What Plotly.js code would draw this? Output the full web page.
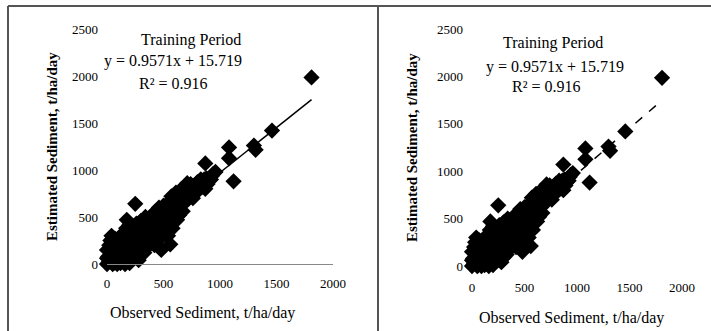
<!DOCTYPE html>
<html>
<head>
<meta charset="utf-8">
<script src="https://cdn.plot.ly/plotly-3.0.1.min.js"></script>
<style>html,body{margin:0;padding:0;background:#fff;}#chart{width:711px;height:331px;}</style>
</head>
<body>
<div id="chart"></div>
<script>
// Observed vs estimated sediment (t/ha/day), training period
const observed = [
  0,20,10,40,30,60,60,50,80,90,70,100,110,100,
  130,140,120,150,160,170,180,180,190,200,200,
  220,220,230,240,250,260,270,280,290,300,300,
  320,330,340,350,360,370,380,390,400,400,
  420,430,440,450,460,470,480,500,500,
  520,530,540,550,560,570,580,590,600,
  610,620,630,650,660,670,680,700,
  710,720,740,760,770,790,800,
  810,830,850,870,880,900,930,960,
  0,0,20,40,30,50,90,120,150,160,200,240,260,280,300,330,340,360,380,
  410,420,440,460,480,500,520,540,550,570,600,620,640,660,680,700,
  720,740,750,780,820,840,860,890,920,940,175,
  480,560,250,870,1080,1080,1120,1300,1315,1460,1810
];
const estimated = [
  0,30,80,50,150,10,110,220,60,170,270,20,120,230,
  60,180,300,110,250,380,40,160,310,420,90,
  40,200,350,130,270,430,80,200,340,460,140,
  230,380,500,170,300,430,220,350,520,270,
  400,560,300,470,600,370,520,430,620,
  330,520,650,420,580,720,380,500,650,
  760,470,580,690,800,560,650,760,
  860,690,780,700,830,760,870,
  790,900,860,800,910,880,940,980,
  60,150,200,300,250,0,0,10,20,0,10,60,140,40,90,120,200,380,460,
  340,200,420,260,330,500,400,300,560,460,560,650,520,620,740,680,
  780,850,740,800,840,820,900,850,900,960,470,
  150,210,640,1070,1240,1125,880,1260,1215,1420,1985
];
const slope = 0.9571;
const intercept = 15.719;
const trendX = [0, 1810];
const trendY = trendX.map(v => slope * v + intercept);
const xTicks = [0, 500, 1000, 1500, 2000];
const yTicks = [0, 500, 1000, 1500, 2000, 2500];
const panelTitle = "Training Period";
const eqText = "y = 0.9571x + 15.719";
const r2Text = "R² = 0.916";
const xTitle = "Observed Sediment, t/ha/day";
const yTitle = "Estimated Sediment, t/ha/day";

const W = 711, H = 331;
const px = v => v / W;
const py = v => 1 - v / H;
const FONT = "Liberation Serif, Times New Roman, serif";

const mk = {symbol: "diamond", size: 12.5, color: "#000", line: {width: 0}};
const traces = [
  {x: observed, y: estimated, type: "scatter", mode: "markers", marker: mk, xaxis: "x", yaxis: "y", cliponaxis: false, hoverinfo: "skip"},
  {x: trendX, y: trendY, type: "scatter", mode: "lines", line: {color: "#000", width: 1.5}, xaxis: "x", yaxis: "y", cliponaxis: false},
  {x: observed, y: estimated, type: "scatter", mode: "markers", marker: mk, xaxis: "x2", yaxis: "y2", cliponaxis: false, hoverinfo: "skip"},
  {x: trendX, y: trendY, type: "scatter", mode: "lines", line: {color: "#000", width: 1.5, dash: "dash"}, xaxis: "x2", yaxis: "y2", cliponaxis: false}
];

function xa(d, showLine, standoff) {
  return {domain: d, range: [0, 2000], tickvals: xTicks, ticktext: xTicks.map(String),
    showgrid: false, zeroline: false, showline: showLine, linecolor: "#888", linewidth: 1,
    ticks: "", ticklabelstandoff: standoff, tickfont: {family: FONT, size: 13, color: "#000"},
    fixedrange: true};
}
function ya(d, anchor) {
  return {domain: d, range: [0, 2500], tickvals: yTicks, ticktext: yTicks.map(String),
    showgrid: false, zeroline: false, showline: false, anchor: anchor,
    ticks: "", ticklabelstandoff: 8, tickfont: {family: FONT, size: 13, color: "#000"},
    fixedrange: true};
}
function ann(x, y, text, size, extra) {
  return Object.assign({xref: "paper", yref: "paper", x: px(x), y: py(y), text: text, showarrow: false,
    xanchor: "center", yanchor: "middle", font: {family: FONT, size: size, color: "#000"}}, extra || {});
}

const layout = {
  width: W, height: H, margin: {l: 0, r: 0, t: 0, b: 0},
  paper_bgcolor: "#fff", plot_bgcolor: "rgba(0,0,0,0)", showlegend: false,
  font: {family: FONT, color: "#000"},
  xaxis: Object.assign(xa([px(107), px(333)], true, 7), {anchor: "y"}),
  yaxis: ya([py(264), py(29)], "x"),
  xaxis2: Object.assign(xa([px(472), px(682)], false, 12), {anchor: "y2"}),
  yaxis2: ya([py(266), py(29)], "x2"),
  shapes: [
    {type: "line", xref: "paper", yref: "paper", x0: px(8), x1: 1, y0: py(6), y1: py(6), line: {color: "#555", width: 2}},
    {type: "line", xref: "paper", yref: "paper", x0: px(8), x1: px(8), y0: py(6), y1: 0, line: {color: "#555", width: 2}},
    {type: "line", xref: "paper", yref: "paper", x0: px(378), x1: px(378), y0: py(6), y1: 0, line: {color: "#555", width: 2}}
  ],
  annotations: [
    ann(191, 40, panelTitle, 16),
    ann(173, 61, eqText, 16),
    ann(173, 83, r2Text, 16),
    ann(553, 43, panelTitle, 16),
    ann(555, 67, eqText, 16),
    ann(546, 86, r2Text, 16),
    ann(202, 313, xTitle, 16),
    ann(571, 318, xTitle, 16),
    ann(52, 147, yTitle, 15, {textangle: -90, font: {family: FONT, size: 15, color: "#000", weight: "bold"}}),
    ann(412, 148, yTitle, 15, {textangle: -90, font: {family: FONT, size: 15, color: "#000", weight: "bold"}})
  ]
};

Plotly.newPlot("chart", traces, layout, {staticPlot: true, displayModeBar: false});
</script>
</body>
</html>
